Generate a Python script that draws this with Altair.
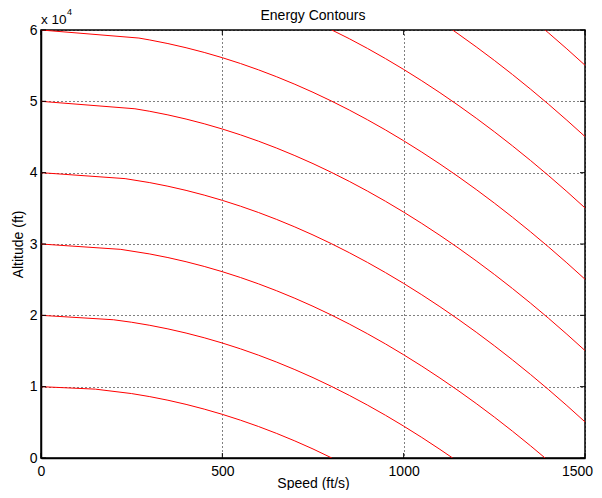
import altair as alt
import pandas as pd

# Energy contour lines (speed ft/s, altitude ft)
speed_grid = [300, 350, 400, 450, 500, 550, 600, 650, 700, 750, 800, 850, 900, 950,
              1000, 1050, 1100, 1150, 1200, 1250, 1300, 1350, 1400, 1450, 1500]

speed_10k = [0, 150, 250, 300, 350, 400, 450, 500, 550, 600, 650, 700, 750, 802]
alt_10k = [10000, 9651, 9030, 8602, 8098, 7516, 6856, 6118, 5303, 4410, 3439, 2391, 1266, 0]

speed_20k = [0, 200, 250, 300, 350, 400, 450, 500, 550, 600, 650, 700, 750, 800, 850, 900,
             950, 1000, 1050, 1100, 1135]
alt_20k = [20000, 19379, 19030, 18602, 18098, 17516, 16856, 16118, 15303, 14410, 13439, 12391,
           11266, 10062, 8781, 7422, 5986, 4472, 2880, 1211, 0]

speed_30k = [0, 220] + speed_grid[:22] + [1390]
alt_30k = [30000, 29248, 28602, 28098, 27516, 26856, 26118, 25303, 24410, 23439, 22391, 21266,
           20062, 18781, 17422, 15986, 14472, 12880, 11211, 9464, 7640, 5738, 3758, 1700, 0]

speed_40k = [0, 232] + speed_grid
alt_40k = [40000, 39164, 38602, 38098, 37516, 36856, 36118, 35303, 34410, 33439, 32391, 31266,
           30062, 28781, 27422, 25986, 24472, 22880, 21211, 19464, 17640, 15738, 13758, 11700,
           9565, 7352, 5062]

speed_50k = [0, 259] + speed_grid
alt_50k = [50000, 48958, 48602, 48098, 47516, 46856, 46118, 45303, 44410, 43439, 42391, 41266,
           40062, 38781, 37422, 35986, 34472, 32880, 31211, 29464, 27640, 25738, 23758, 21700,
           19565, 17352, 15062]

speed_60k = [0, 270] + speed_grid
alt_60k = [60000, 58870, 58602, 58098, 57516, 56856, 56118, 55303, 54410, 53439, 52391, 51266,
           50062, 48781, 47422, 45986, 44472, 42880, 41211, 39464, 37640, 35738, 33758, 31700,
           29565, 27352, 25062]

speed_70k = [802, 850, 900, 950, 1000, 1050, 1100, 1150, 1200, 1250, 1300, 1350, 1400, 1450, 1500]
alt_70k = [60000, 58781, 57422, 55986, 54472, 52880, 51211, 49464, 47640, 45738, 43758, 41700,
           39565, 37352, 35062]

speed_80k = [1135, 1150, 1200, 1250, 1300, 1350, 1400, 1450, 1500]
alt_80k = [60000, 59464, 57640, 55738, 53758, 51700, 49565, 47352, 45062]

speed_90k = [1390, 1400, 1450, 1500]
alt_90k = [60000, 59565, 57352, 55062]

x_ticks = [0, 500, 1000, 1500]
y_ticks = [0, 10000, 20000, 30000, 40000, 50000, 60000]

curves = [
    ("E10", speed_10k, alt_10k), ("E20", speed_20k, alt_20k), ("E30", speed_30k, alt_30k),
    ("E40", speed_40k, alt_40k), ("E50", speed_50k, alt_50k), ("E60", speed_60k, alt_60k),
    ("E70", speed_70k, alt_70k), ("E80", speed_80k, alt_80k), ("E90", speed_90k, alt_90k),
]
rows = []
for name, sp, al in curves:
    for i, (s, a) in enumerate(zip(sp, al)):
        rows.append({"level": name, "order": i, "speed": s, "altitude": a})
df = pd.DataFrame(rows)

W, H = 544, 428
FONT = "Liberation Sans"

xscale = alt.Scale(domain=[0, 1500], nice=False, zero=False)
yscale = alt.Scale(domain=[0, 60000], nice=False, zero=False)

xaxis = alt.Axis(values=x_ticks, format="d", grid=True, gridDash=[1, 3], gridColor="black",
                 gridOpacity=1, gridWidth=1, ticks=False, labelPadding=6, labelFontSize=14,
                 labelFont=FONT, labelColor="black", domainColor="black", domainWidth=1.5,
                 labelOffset={"condition": {"test": "datum.value == 1500", "value": -8}, "value": 0},
                 title="Speed (ft/s)", titleFont=FONT, titleFontSize=14, titleFontWeight="normal",
                 titleColor="black", titleX=W / 2, titleY=29, titleBaseline="alphabetic",
                 labelFlush=False)
yaxis = alt.Axis(values=y_ticks, grid=True, gridDash=[1, 3], gridColor="black", gridOpacity=1,
                 gridWidth=1, ticks=False, labelPadding=4, labelFontSize=14, labelFont=FONT,
                 labelColor="black", domainColor="black", domainWidth=1.5,
                 labelExpr="datum.value / 10000",
                 title="Altitude (ft)", titleFont=FONT, titleFontSize=14, titleFontWeight="normal",
                 titleColor="black", titleX=-16, titleY=H / 2, titleBaseline="bottom",
                 titleAngle=-90, titleAlign="center", labelFlush=False)

X = alt.X("speed:Q", scale=xscale, axis=xaxis)
Y = alt.Y("altitude:Q", scale=yscale, axis=yaxis)

lines = alt.Chart(df).mark_line(color="#ff0000", strokeWidth=1, clip=True).encode(
    x=X, y=Y, detail="level:N", order="order:Q",
)

xt = pd.DataFrame({"speed": x_ticks})
yt = pd.DataFrame({"altitude": y_ticks})
tick_bottom = alt.Chart(xt).mark_rule(color="black", strokeWidth=1).encode(
    x=X, y=alt.value(H), y2=alt.value(H - 5))
tick_top = alt.Chart(xt).mark_rule(color="black", strokeWidth=1).encode(
    x=X, y=alt.value(0), y2=alt.value(5))
tick_left = alt.Chart(yt).mark_rule(color="black", strokeWidth=1).encode(
    y=Y, x=alt.value(0), x2=alt.value(5))
tick_right = alt.Chart(yt).mark_rule(color="black", strokeWidth=1).encode(
    y=Y, x=alt.value(W), x2=alt.value(W - 5))

title_txt = alt.Chart(pd.DataFrame({"t": ["Energy Contours"]})).mark_text(
    align="center", baseline="alphabetic", font=FONT, fontSize=14, color="black").encode(
    text="t:N", x=alt.value(W / 2), y=alt.value(-10))
exp_base = alt.Chart(pd.DataFrame({"t": ["x 10"]})).mark_text(
    align="left", baseline="alphabetic", font=FONT, fontSize=13.5, color="black").encode(
    text="t:N", x=alt.value(0), y=alt.value(-6))
exp_sup = alt.Chart(pd.DataFrame({"t": ["4"]})).mark_text(
    align="left", baseline="alphabetic", font=FONT, fontSize=9, color="black").encode(
    text="t:N", x=alt.value(26), y=alt.value(-15))

chart = alt.layer(
    lines, tick_bottom, tick_top, tick_left, tick_right, title_txt, exp_base, exp_sup
).properties(
    width=W, height=H,
    autosize=alt.AutoSizeParams(type="none"),
    padding={"left": 33, "top": 22, "right": 9, "bottom": 32},
).configure(background="white").configure_view(stroke="black", strokeWidth=1.5)

chart.save("out.html", embed_options={"renderer": "svg", "actions": False})
